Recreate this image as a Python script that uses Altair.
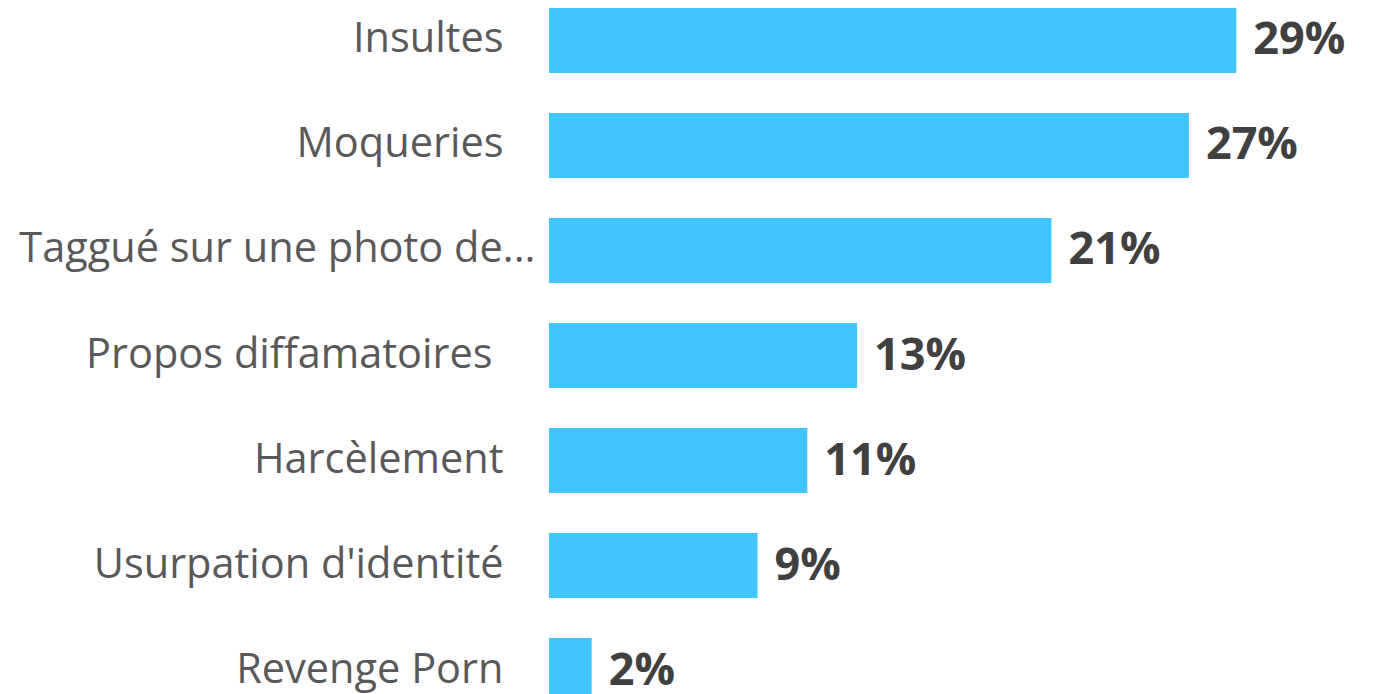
import altair as alt
import pandas as pd

categories = [
    "Insultes",
    "Moqueries",
    "Taggué sur une photo de...",
    "Propos diffamatoires",
    "Harcèlement",
    "Usurpation d'identité",
    "Revenge Porn",
]
values = [29.0, 27.0, 21.2, 13.0, 10.9, 8.8, 1.8]
labels = ["29%", "27%", "21%", "13%", "11%", "9%", "2%"]

df = pd.DataFrame({"cat": categories, "val": values, "lab": labels})

y_enc = alt.Y(
    "cat:N",
    sort=categories,
    title=None,
    scale=alt.Scale(paddingInner=0.381, paddingOuter=0),
    axis=alt.Axis(
        domain=False,
        ticks=False,
        grid=False,
        labelFont="Open Sans",
        labelFontSize=41.5,
        labelColor="#595959",
        labelLimit=1000,
        labelPadding={
            "condition": [
                {"test": "datum.value == 'Taggué sur une photo de...'", "value": 14},
                {"test": "datum.value == 'Propos diffamatoires'", "value": 57},
            ],
            "value": 46,
        },
    ),
)

bars = alt.Chart(df).mark_bar(color="#41C4FF").encode(
    y=y_enc,
    x=alt.X("val:Q", scale=alt.Scale(domain=[0, 30]), axis=None),
)

text = alt.Chart(df).mark_text(
    align="left",
    baseline="middle",
    dx=17,
    font="Open Sans",
    fontSize=45,
    fontWeight="bold",
    color="#404040",
).encode(
    y=alt.Y("cat:N", sort=categories),
    x=alt.X("val:Q"),
    text="lab:N",
)

chart = (
    alt.layer(bars, text)
    .properties(width=711, height=695, padding={"left": 10, "top": 0, "right": 0, "bottom": 0})
    .configure_view(stroke=None)
)

chart.save("out.html", embed_options={"renderer": "svg", "actions": False})
